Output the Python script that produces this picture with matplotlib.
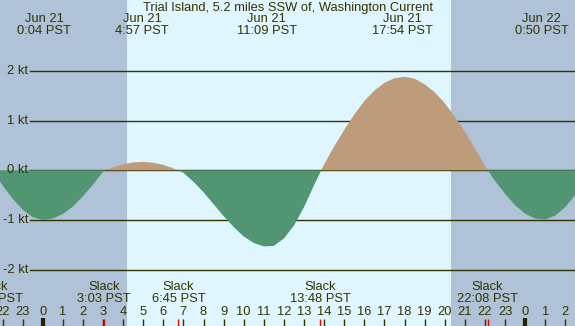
import numpy as np
import matplotlib
matplotlib.use('Agg')
import matplotlib.pyplot as plt

# current speed (knots) read every half hour, hour 0 = Jun 21 00:00 PST
hours = np.arange(-2.5, 27.5, 0.5)
knots = [0.00, -0.30, -0.57, -0.79, -0.94, -1.00,
         -0.97, -0.88, -0.73, -0.52, -0.29, -0.03,
         0.06, 0.12, 0.16, 0.17, 0.15, 0.11, 0.04,
         -0.05, -0.23, -0.44, -0.68, -0.92, -1.14, -1.33, -1.46, -1.53,
         -1.52, -1.37, -1.11, -0.74, -0.30,
         0.12, 0.48, 0.81, 1.12, 1.39, 1.60, 1.76, 1.85, 1.88,
         1.84, 1.73, 1.57, 1.35, 1.08, 0.77, 0.44, 0.09,
         -0.21, -0.47, -0.70, -0.87, -0.97,
         -0.99, -0.91, -0.74, -0.49, -0.19]

# max / min events shown along the top
peak_hours = [0.067, 4.95, 11.15, 17.9, 24.83]
peak_dates = ['Jun 21', 'Jun 21', 'Jun 21', 'Jun 21', 'Jun 22']
peak_times = ['0:04 PST', '4:57 PST', '11:09 PST', '17:54 PST', '0:50 PST']

# slack water events shown along the bottom
slack_hours = [-2.5, 3.05, 6.75, 13.8, 22.13]
slack_times = ['21:30 PST', '3:03 PST', '6:45 PST', '13:48 PST', '22:08 PST']

sunrise = 4.19
sunset = 20.31
speed_ticks = [2, 1, 0, -1, -2]
speed_labels = ['2 kt', '1 kt', '0 kt', '-1 kt', '-2 kt']

title = 'Trial Island, 5.2 miles SSW of, Washington Current'

txt = '#333300'
day_col = '#dff6fe'
night_col = '#afc2d8'
flood_col = '#bd9b7b'
ebb_col = '#519572'
fs = 9.3

# pixel mapping of the original image
X0, XS = 42.7, 20.1     # px of hour 0, px per hour
Y0, YS = 170.3, 49.75   # px of 0 kt, px per knot
W, H = 575, 326


def yv(px):
    return (Y0 - px) / YS


def xh(px):
    return (px - X0) / XS


plt.rcParams['font.family'] = ['Liberation Sans', 'DejaVu Sans']
fig = plt.figure(figsize=(5.75, 3.26), dpi=100)
ax = fig.add_axes([0, 0, 1, 1])
ax.set_xlim(xh(0), xh(W))
ax.set_ylim(yv(H), yv(0))
ax.axis('off')
ax.add_patch(plt.Rectangle((0, 0), 1, 1, transform=ax.transAxes,
                           color=day_col, zorder=0))

ax.axvspan(xh(0) - 1, sunrise, color=night_col, lw=0, zorder=1)
ax.axvspan(sunset, xh(W) + 1, color=night_col, lw=0, zorder=1)

for v, lab in zip(speed_ticks, speed_labels):
    ax.axhline(v, xmin=30 / W, xmax=1, color=txt, lw=1.0, zorder=2)
    ax.text(xh(28), v, lab, ha='right', va='center', fontsize=fs,
            color=txt, zorder=5)

k = np.array(knots)
ax.fill_between(hours, 0, k, where=k >= 0, interpolate=True,
                color=flood_col, lw=0, zorder=3)
ax.fill_between(hours, 0, k, where=k <= 0, interpolate=True,
                color=ebb_col, lw=0, zorder=3)

ax.text(xh(W / 2 + 0.5), yv(8), title, ha='center', va='center',
        fontsize=fs, color=txt, zorder=5)
for h, d, t in zip(peak_hours, peak_dates, peak_times):
    ax.text(h, yv(19), d, ha='center', va='center', fontsize=fs, color=txt)
    ax.text(h, yv(31), t, ha='center', va='center', fontsize=fs, color=txt)

for h, t in zip(slack_hours, slack_times):
    ax.text(h, yv(287.5), 'Slack', ha='center', va='center', fontsize=fs,
            color=txt)
    ax.text(h, yv(299.5), t, ha='center', va='center', fontsize=fs,
            color=txt)
    ax.plot([h, h], [yv(319), yv(H + 2)], color='#ff0000', lw=1,
            solid_capstyle='butt', zorder=4)

for h in range(-2, 27):
    ax.text(h, yv(312), str(h % 24), ha='center', va='center', fontsize=fs,
            color=txt)
    if h % 24 == 0:
        ax.plot([h, h], [yv(318), yv(H + 2)], color='#222200', lw=3,
                solid_capstyle='butt', zorder=4)
    else:
        ax.plot([h, h], [yv(319), yv(H + 2)], color=txt, lw=1,
                solid_capstyle='butt', zorder=4)

plt.savefig('out.png', dpi=100)
